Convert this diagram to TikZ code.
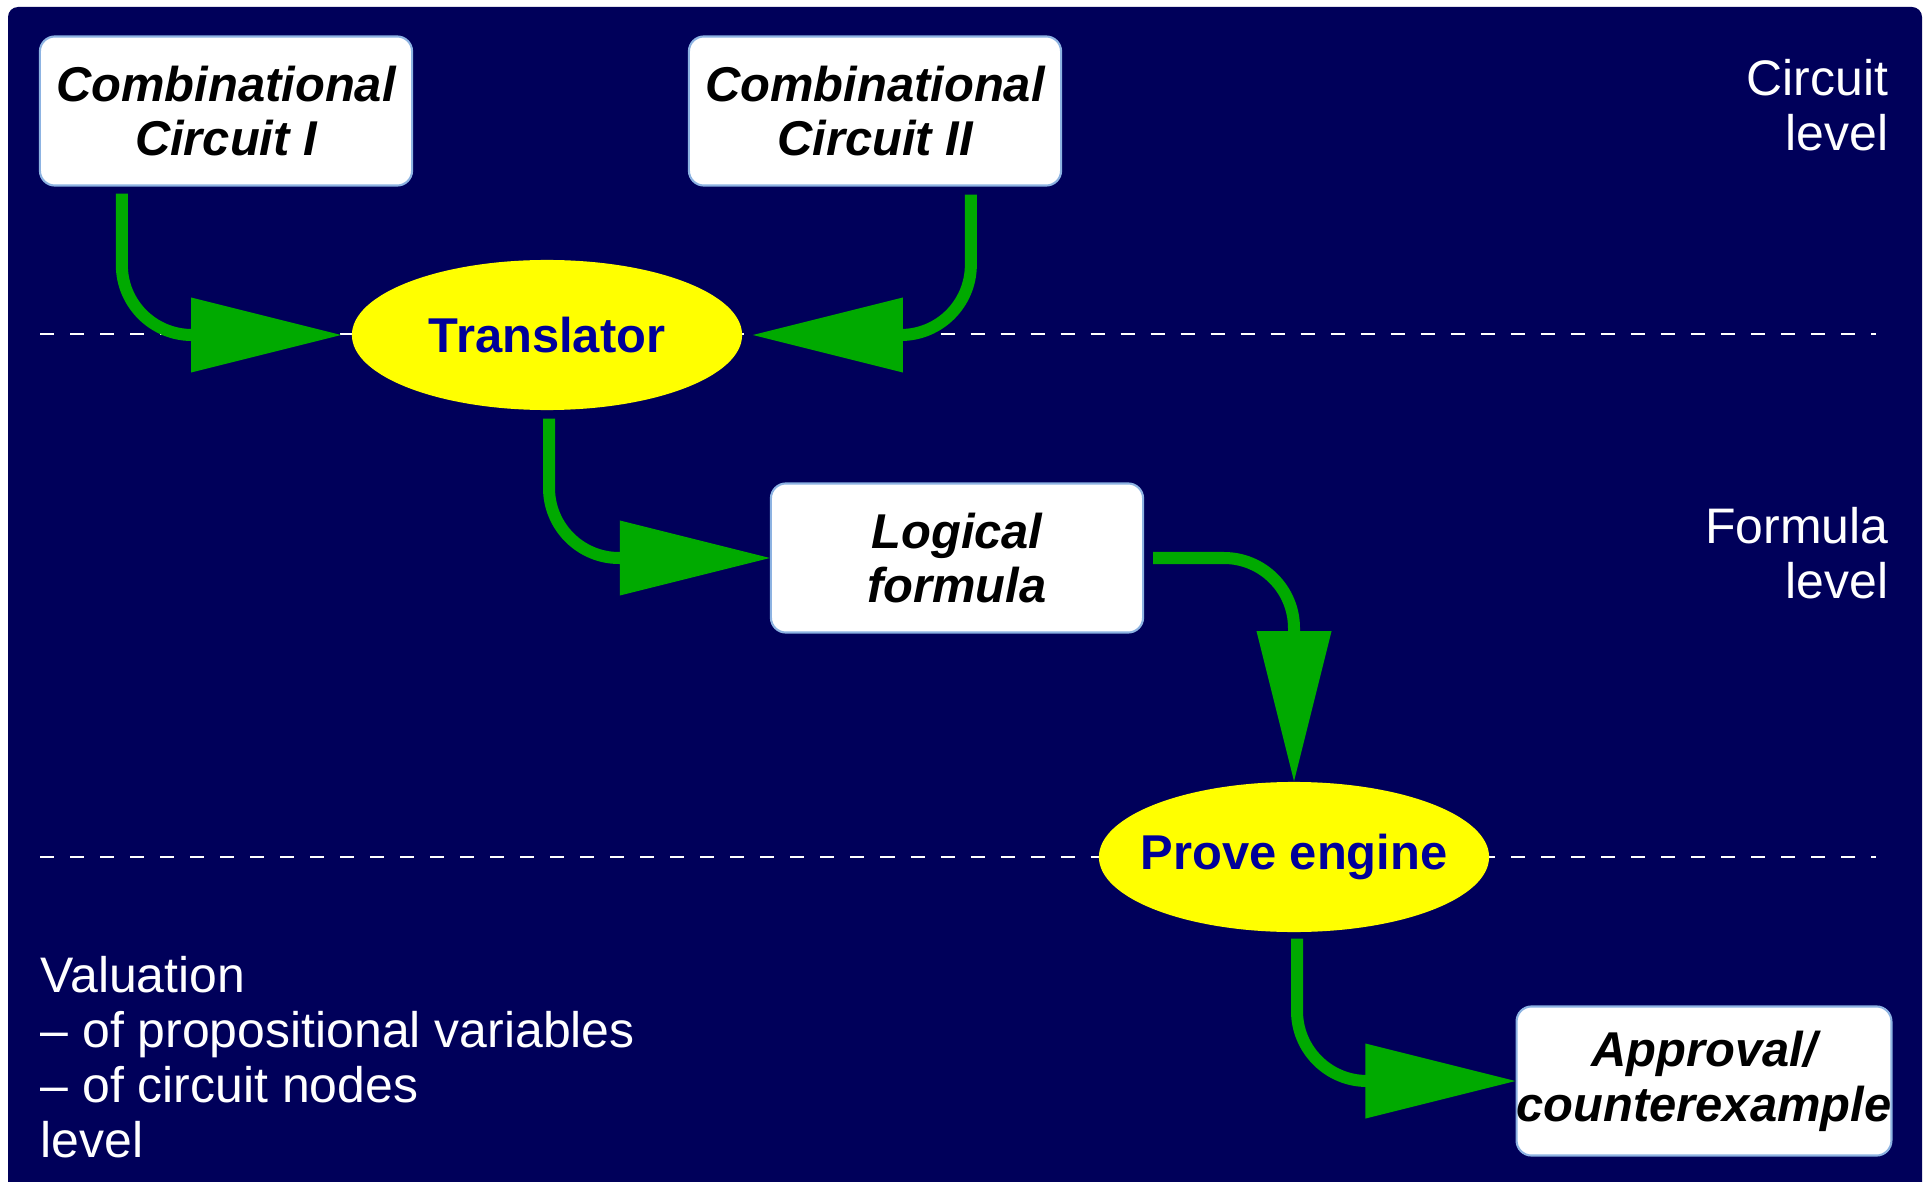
\documentclass[tikz,border=0pt]{standalone}
\usepackage{fontspec}
\setmainfont{Liberation Sans}
\usetikzlibrary{arrows.meta,positioning,calc,shapes.geometric}
\definecolor{navybg}{HTML}{00005A}
\definecolor{flowgreen}{HTML}{00AA00}
\definecolor{ovalfill}{HTML}{FFFF00}
\definecolor{ovaltext}{HTML}{000099}
\definecolor{edge}{HTML}{8DB3E2}
\newcommand{\slidefont}{\fontsize{13.9pt}{15.6pt}\selectfont}
\newcommand{\notefont}{\fontsize{14.2pt}{15.6pt}\selectfont}
\tikzset{
  box/.style={
    draw=edge, line width=0.6pt, fill=white, rounded corners=0.15cm,
    minimum width=3.72cm, minimum height=1.49cm, inner sep=0pt,
    align=center, font=\slidefont\bfseries\itshape
  },
  oval/.style={
    ellipse, fill=ovalfill, minimum width=3.9cm, minimum height=1.5cm,
    inner xsep=-0.2cm, inner ysep=0pt,
    font=\slidefont\bfseries, text=ovaltext
  },
  levelnote/.style={text=white, font=\notefont, inner sep=0pt},
  flow/.style={
    draw=flowgreen, line width=0.12cm, rounded corners=0.7cm,
    -{Triangle[length=1.5cm, width=0.75cm, line width=0pt]}
  },
  divider/.style={draw=white, line width=0.02cm, dash pattern=on 0.14cm off 0.16cm}
}
\begin{document}
\begin{tikzpicture}[x=0.01cm, y=0.01cm]
  \path[use as bounding box, fill=white] (0,0) rectangle (1923,-1182);
  \fill[navybg, rounded corners=0.1cm] (8,-7) rectangle (1922,-1200);
  % level dividers
  \draw[divider] (40,-334) -- (1876,-334);
  \draw[divider] (40,-857) -- (1876,-857);
  % circuit level
  \node[box] (cc1) at (226,-111) {Combinational\\Circuit I};
  \node[box] (cc2) at (875,-111) {Combinational\\Circuit II};
  \node[oval] (tr) at (547,-335) {Translator};
  % formula level
  \node[box] (lf) at (957,-558) {Logical\\formula};
  \node[oval] (pe) at (1294,-857) {Prove engine};
  \node[box] (ap) at (1704,-1081) {Approval/\\counterexample};
  % level names
  \node[levelnote, anchor=north east, align=right] (lvc) at (1889,-59) {Circuit\\level};
  \node[levelnote, anchor=north east, align=right] (lvf) at (1889,-507) {Formula\\level};
  \node[levelnote, anchor=north west, align=left] (lvv) at (40,-956)
    {Valuation\\– of propositional variables\\– of circuit nodes\\level};
  % flows
  \draw[flow] ($(cc1.south west)+(83,-7)$) |- ($(tr.west)+(-10,0)$);
  \draw[flow] ($(cc2.south west)+(283,-8)$) |- ($(tr.east)+(10,0)$);
  \draw[flow] ($(tr.south)+(2,-8)$) |- (lf.west);
  \draw[flow] ($(lf.east)+(9,0)$) -| (pe.north);
  \draw[flow] ($(pe.south)+(3,-6)$) |- (ap.west);
\end{tikzpicture}
\end{document}
